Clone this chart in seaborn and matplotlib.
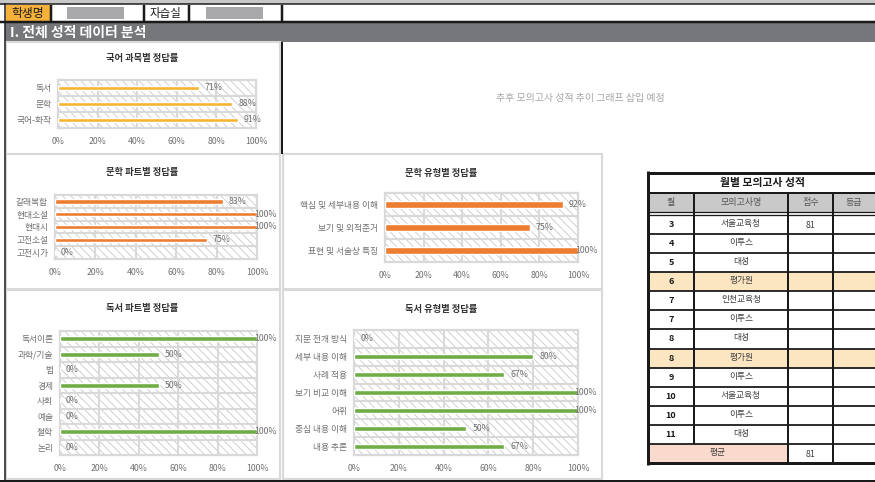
import pandas as pd
import matplotlib.pyplot as plt
import seaborn as sns
from matplotlib.patches import Rectangle

# ---- data ----
kor_subjects = ['독서', '문학', '국어-화작']
kor_rates = [71, 88, 91]

lit_parts = ['갈래복합', '현대소설', '현대시', '고전소설', '고전시가']
lit_part_rates = [83, 100, 100, 75, 0]

lit_types = ['핵심 및 세부내용 이해', '보기 및 외적준거', '표현 및 서술상 특징']
lit_type_rates = [92, 75, 100]

read_parts = ['독서이론', '과학/기술', '법', '경제', '사회', '예술', '철학', '논리']
read_part_rates = [100, 50, 0, 50, 0, 0, 100, 0]

read_types = ['지문 전개 방식', '세부 내용 이해', '사례 적용', '보기 비교 이해',
              '어휘', '중심 내용 이해', '내용 추론']
read_type_rates = [0, 80, 67, 100, 100, 50, 67]

exam_months = [3, 4, 5, 6, 7, 7, 8, 8, 9, 10, 10, 11]
exam_names = ['서울교육청', '이투스', '대성', '평가원', '인천교육청', '이투스',
              '대성', '평가원', '이투스', '서울교육청', '이투스', '대성']
exam_scores = [81, None, None, None, None, None, None, None, None, None, None, None]
table_cols = ['월', '모의고사명', '점수', '등급']

W, H = 875, 482
sns.set_theme(style='white')
plt.rcParams['font.family'] = ['Noto Sans CJK KR', 'DejaVu Sans']
plt.rcParams['hatch.color'] = '#c9c9c9'
plt.rcParams['hatch.linewidth'] = 0.6

fig = plt.figure(figsize=(W / 100, H / 100), dpi=100)
bg = fig.add_axes([0, 0, 1, 1])
bg.set_xlim(0, W)
bg.set_ylim(H, 0)
bg.axis('off')

INK = '#1a1a1a'
GRID = '#d9d9d9'
TXT = '#707070'


def box(x0, y0, x1, y1, fc, ec='none', lw=0, z=1):
    bg.add_patch(Rectangle((x0, y0), x1 - x0, y1 - y0, facecolor=fc,
                           edgecolor=ec, linewidth=lw, zorder=z))


def line(xs, ys, c=INK, px=2, z=3):
    bg.plot(xs, ys, color=c, lw=px * 0.72, zorder=z, solid_capstyle='butt')


# ---- top header ----
box(0, 0, W, 3.5, '#c8c8c8')
line([0, W], [4.2, 4.2], px=1.5)
box(6, 5, 50, 21, '#f6b13a')
bg.text(28, 13, '학생명', fontsize=8.5, ha='center', va='center', color=INK)
box(67, 6.5, 124, 18.5, '#a8a8ab')
bg.text(166, 13, '자습실', fontsize=8.3, ha='center', va='center', color=INK)
box(206, 6.5, 263, 18.5, '#a8a8ab')
for sx in [51, 143.5, 188.5, 281.5]:
    line([sx, sx], [5, 21], px=2.5)
line([0, W], [22, 22], px=2.5)
box(5, 23, W, 41.5, '#76777b')
bg.text(10, 32.5, 'I. 전체 성적 데이터 분석', color='white', fontsize=10,
        fontweight='bold', va='center')

# panel frames
for p in [(6, 42, 280, 153.5), (6, 154, 280, 289), (283, 154, 602, 289),
          (6, 290, 280, 479), (283, 290, 602, 479)]:
    box(*p, fc='white', ec=GRID, lw=1.5)
line([282, 282], [41.5, 154], px=2)
line([5, 5], [3, 481], px=1.5)
line([0, W], [480.5, 480.5], px=2)

bg.text(580, 98, '추후 모의고사 성적 추이 그래프 삽입 예정', fontsize=7.2,
        ha='center', va='center', color='#a6a6a6')


def rate_chart(cats, vals, color, bar_w, plot_box, title, title_xy):
    x0, y0, x1, y1 = plot_box
    ax = fig.add_axes([x0 / W, 1 - y1 / H, (x1 - x0) / W, (y1 - y0) / H])
    df = pd.DataFrame({'항목': cats, '정답률': vals})
    sns.barplot(data=df, x='정답률', y='항목', order=cats, orient='h',
                color=color, saturation=1, width=bar_w, errorbar=None,
                ax=ax, zorder=3)
    ax.add_patch(Rectangle((0, 0), 1, 1, transform=ax.transAxes,
                           facecolor='white', edgecolor='#c9c9c9',
                           hatch='\\\\\\\\', linewidth=0, zorder=0))
    ax.set_xlim(0, 100)
    ax.set_ylim(len(cats) - 0.5, -0.5)
    for t in range(20, 100, 20):
        ax.axvline(t, color=GRID, lw=1.5, zorder=1)
    for i in range(1, len(cats)):
        ax.axhline(i - 0.5, color=GRID, lw=1.5, zorder=1)
    for s in ax.spines.values():
        s.set_color(GRID)
        s.set_linewidth(1.6)
    ax.set_xticks(range(0, 101, 20))
    ax.set_xticklabels([f'{t}%' for t in range(0, 101, 20)])
    ax.tick_params(length=0, labelsize=6.3, labelcolor=TXT)
    ax.tick_params(axis='x', pad=6.5)
    ax.tick_params(axis='y', pad=5)
    ax.set_xlabel('')
    ax.set_ylabel('')
    for i, v in enumerate(vals):
        ax.text(min(v + 3, 98.5), i, f'{v}%', va='center', ha='left',
                fontsize=6.3, color=TXT, zorder=4, clip_on=False)
    bg.text(title_xy[0], title_xy[1], title, ha='center', va='center',
            fontsize=6.7, fontweight='bold', color='#333333')
    return ax


rate_chart(kor_subjects, kor_rates, '#f7b432', 0.3, (58, 80, 256, 128),
           '국어 과목별 정답률', (142, 59))
rate_chart(lit_parts, lit_part_rates, '#ed7d31', 0.34, (55, 195, 257, 259),
           '문학 파트별 정답률', (142, 173))
rate_chart(lit_types, lit_type_rates, '#ed7d31', 0.3, (385, 193, 578, 262),
           '문학 유형별 정답률', (441, 173))
rate_chart(read_parts, read_part_rates, '#70ad47', 0.32, (60, 331, 257, 455),
           '독서 파트별 정답률', (142, 309))
rate_chart(read_types, read_type_rates, '#70ad47', 0.28, (354, 330, 578, 455),
           '독서 유형별 정답률', (441, 309))

# ---- monthly mock exam table ----
col_edges = [648, 694, 788, 833, 880]
col_mid = [(col_edges[i] + col_edges[i + 1]) / 2 for i in range(3)] + [854]
row_top, row_h = 214.8, 19.1
n_rows = len(exam_months)
bottom = row_top + (n_rows + 1) * row_h

bg.text(762, 183, '월별 모의고사 성적', fontsize=7.8, fontweight='bold',
        ha='center', va='center', color=INK)
box(648, 193, W, 212, '#c9c9c9')
for cx, name in zip(col_mid, table_cols):
    bg.text(cx, 202.5, name, fontsize=6.5, ha='center', va='center', color='#555555')

for i, (m, name, sc) in enumerate(zip(exam_months, exam_names, exam_scores)):
    ry = row_top + i * row_h
    if name == '평가원':
        box(648, ry, W, ry + row_h, '#fce6c2')
    yc = ry + row_h / 2
    bg.text(col_mid[0], yc, str(m), fontsize=6.5, fontweight='bold',
            ha='center', va='center', color=INK)
    bg.text(col_mid[1], yc - 1, name, fontsize=6.3, ha='center', va='center', color='#404040')
    if sc is not None:
        bg.text(col_mid[2], yc + 1, str(sc), fontsize=6.3, ha='center', va='center', color='#404040')

avg_y = row_top + n_rows * row_h
box(648, avg_y, 788, avg_y + row_h, '#f9dacd')
valid = [s for s in exam_scores if s is not None]
bg.text(718, avg_y + row_h / 2 - 1, '평균', fontsize=6.3, ha='center', va='center', color='#404040')
bg.text(col_mid[2], avg_y + row_h / 2 + 1, f'{sum(valid) / len(valid):.0f}',
        fontsize=6.3, ha='center', va='center', color='#404040')

line([648, W], [172.5, 172.5], px=3)
line([648, W], [193, 193], px=2)
line([648, W], [212.3, 212.3], px=1.3)
line([648, W], [214.6, 214.6], px=1.3)
for i in range(1, n_rows + 1):
    yy = row_top + i * row_h
    line([648, W], [yy, yy], px=1.8)
line([648, W], [bottom, bottom], px=3)
line([648, 648], [171, bottom + 1.5], px=3)
line([694, 694], [193, avg_y], px=2)
for cx in [788, 833]:
    line([cx, cx], [193, bottom], px=2)

fig.savefig('out.png', dpi=100)
